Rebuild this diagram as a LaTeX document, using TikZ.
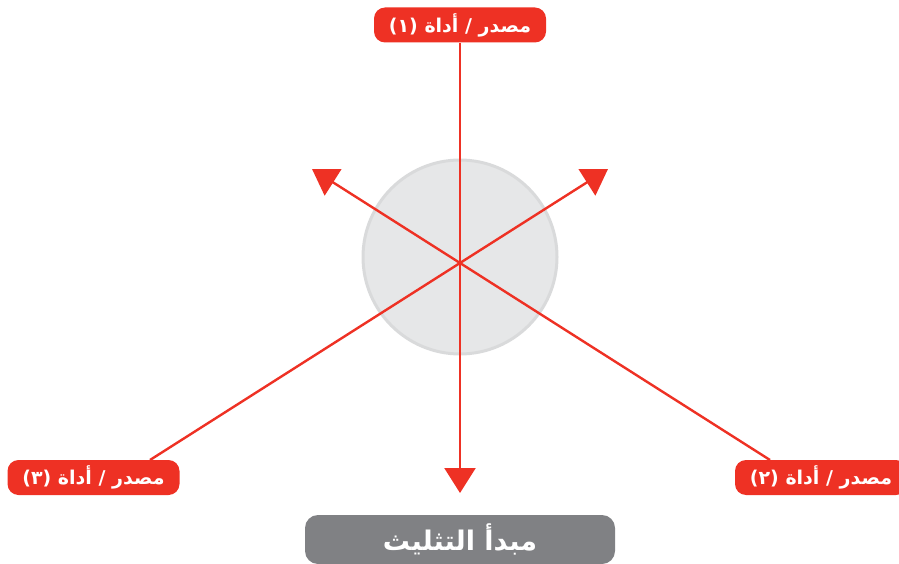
\documentclass[tikz,border=0pt]{standalone}
\usepackage{fontspec}
\newfontfamily\arabicfont[Script=Arabic]{DejaVu Sans}
\TeXXeTstate=1
\usetikzlibrary{arrows.meta,positioning}
\definecolor{srcred}{HTML}{EE3124}
\definecolor{hubgray}{HTML}{E6E7E8}
\definecolor{hubedge}{HTML}{D9DADB}
\definecolor{titlegray}{HTML}{808184}
\tikzset{
  ray/.style={srcred, line width=2.4pt},
  raytip/.style={-{Triangle[length=25pt,width=31pt]}},
  srcbox/.style={fill=srcred, text=white, rounded corners=11pt,
    minimum width=172pt, minimum height=35pt, inner sep=0pt,
    font=\arabicfont\bfseries\fontsize{19}{21}\selectfont},
  titlebox/.style={fill=titlegray, text=white, rounded corners=13pt,
    minimum width=310pt, minimum height=49pt, inner sep=0pt,
    font=\arabicfont\bfseries\fontsize{27}{30}\selectfont}
}

\begin{document}
\begin{tikzpicture}[x=1pt,y=-1pt]
\useasboundingbox (0,0) rectangle (899,564);
% the circle behind the crossing
\node[circle, fill=hubgray, draw=hubedge, line width=3pt,
  minimum size=194pt] (hub) at (460,257) {};
\coordinate (mid) at (460,263);
\coordinate (tipL) at (312,169);
\coordinate (tipR) at (608,169);
\coordinate (tipD) at (460,493);
\coordinate (foot2) at (770,460);
\coordinate (foot3) at (150,460);
% source labels
\foreach \n/\x/\y/\d in {1/460/25/١, 2/821/477.5/٢, 3/93.5/477.5/٣}{
  \node[srcbox] (src\n) at (\x,\y) {\beginR مصدر / أداة (\d)\endR};
}
\node[titlebox] (title) at (460,539.5) {\beginR مبدأ التثليث\endR};
% rays through the middle
\draw[ray,raytip] (src1.south) -- (tipD);
\draw[ray,raytip] (foot2) -- (mid) -- (tipL);
\draw[ray,raytip] (foot3) -- (mid) -- (tipR);
\end{tikzpicture}
\end{document}
